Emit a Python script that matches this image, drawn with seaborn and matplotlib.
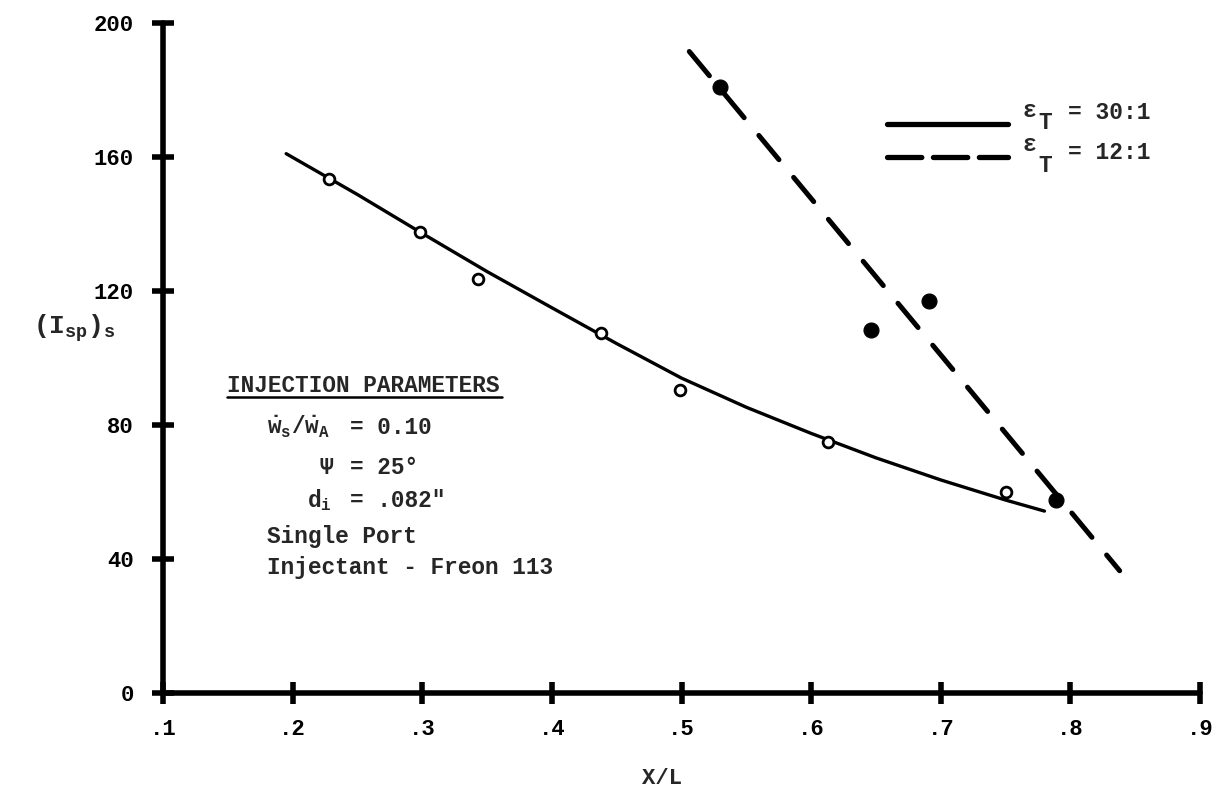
import numpy as np
import pandas as pd
import matplotlib
matplotlib.use("Agg")
import matplotlib.pyplot as plt
import seaborn as sns

sns.set_style("white")
plt.rcParams['font.family'] = ['Liberation Mono', 'DejaVu Sans Mono']
plt.rcParams['font.weight'] = 'bold'
plt.rcParams['axes.labelweight'] = 'bold'
plt.rcParams['mathtext.fontset'] = 'custom'
plt.rcParams['mathtext.rm'] = 'Liberation Mono:bold'
plt.rcParams['mathtext.it'] = 'Liberation Mono:bold'

# eps_T = 30:1 -- faired curve and test points (open circles)
fit30_x = [0.195, 0.25, 0.30, 0.35, 0.40, 0.45, 0.50, 0.55, 0.60, 0.65, 0.70, 0.75, 0.78]
fit30_y = [161.0, 148.8, 137.2, 125.8, 115.0, 104.3, 94.0, 85.3, 77.5, 70.2, 63.6, 57.6, 54.3]
pts30_x = [0.228, 0.298, 0.343, 0.438, 0.499, 0.613, 0.750]
pts30_y = [153.5, 137.5, 123.5, 107.5, 90.5, 75.0, 60.0]

# eps_T = 12:1 -- dashed fairing and test points (filled circles)
fit12_x = [0.506, 0.838]
fit12_y = [191.5, 36.5]
pts12_x = [0.530, 0.646, 0.691, 0.789]
pts12_y = [181.0, 108.5, 117.0, 57.5]

x_ticks = [0.1, 0.2, 0.3, 0.4, 0.5, 0.6, 0.7, 0.8, 0.9]
x_labels = ['.1', '.2', '.3', '.4', '.5', '.6', '.7', '.8', '.9']
y_ticks = [0, 40, 80, 120, 160, 200]

fig = plt.figure(figsize=(12.22, 7.91), dpi=100)
ax = fig.add_axes([0.1334, 0.1239, 0.8486, 0.847])

sns.lineplot(x=fit30_x, y=fit30_y, ax=ax, color='black', lw=2.4, sort=False,
             estimator=None, solid_capstyle='round')
sns.lineplot(x=fit12_x, y=fit12_y, ax=ax, color='black', lw=3.6, sort=False,
             estimator=None, linestyle=(0, (6.3, 4.6)), dash_capstyle='round')
sns.scatterplot(x=pts30_x, y=pts30_y, ax=ax, marker='o', s=60, facecolor='white',
                edgecolor='black', linewidth=2, zorder=5)
sns.scatterplot(x=pts12_x, y=pts12_y, ax=ax, marker='o', s=115, color='black',
                edgecolor='black', zorder=5)

ax.set_xlim(0.1, 0.9)
ax.set_ylim(0, 200)
ax.set_xticks(x_ticks)
ax.set_xticklabels(x_labels)
ax.set_yticks(y_ticks)
for s in ['top', 'right']:
    ax.spines[s].set_visible(False)
for s in ['left', 'bottom']:
    ax.spines[s].set_linewidth(4)
    ax.spines[s].set_color('black')
    ax.spines[s].set_capstyle('round')
ax.tick_params(bottom=True, left=True, direction='inout', length=16, width=4,
               colors='black', labelsize=16)
ax.tick_params(axis='x', pad=11)
ax.tick_params(axis='y', pad=13)
for t in ax.get_xticklabels() + ax.get_yticklabels():
    t.set_clip_on(False)

ax.set_xlabel('X/L', fontsize=16, fontweight='bold')
ax.xaxis.set_label_coords(0.481, -0.127)
ax.xaxis.label.set_va('center')
ax.set_ylabel(r'$(\mathrm{I}_{\mathrm{sp}})_{\mathrm{s}}$', fontsize=19, rotation=0)
ax.yaxis.set_label_coords(-0.085, 0.545)
ax.yaxis.label.set_va('center')
ax.yaxis.label.set_ha('center')

# key, top right
ax.plot([0.698, 0.815], [0.849, 0.849], transform=ax.transAxes, color='black',
        lw=3.8, solid_capstyle='round', clip_on=False)
ax.plot([0.698, 0.815], [0.800, 0.800], transform=ax.transAxes, color='black',
        lw=3.8, linestyle=(0, (6.5, 2.2)), dash_capstyle='round', clip_on=False)
lk = dict(transform=ax.transAxes, fontsize=16.5, va='center', ha='left')
ax.text(0.829, 0.870, 'ε', **lk)
ax.text(0.844, 0.851, 'T', **lk)
ax.text(0.873, 0.867, '= 30:1', **lk)
ax.text(0.829, 0.819, 'ε', **lk)
ax.text(0.844, 0.788, 'T', **lk)
ax.text(0.873, 0.806, '= 12:1', **lk)

# injection parameters block
tk = dict(transform=ax.transAxes, fontsize=16.4, va='center', ha='left')
ax.text(0.0617, 0.4597, 'INJECTION PARAMETERS', **tk)
ax.plot([0.0617, 0.327], [0.4418, 0.4418], transform=ax.transAxes, color='black', lw=1.8)
ax.text(0.100, 0.397, r'$\dot{\mathrm{w}}_{\mathrm{s}}/\dot{\mathrm{w}}_{\mathrm{A}}$', **tk)
ax.text(0.180, 0.397, '= 0.10', **tk)
ax.text(0.151, 0.337, 'Ψ', **tk)
ax.text(0.180, 0.337, '= 25°', **tk)
ax.text(0.139, 0.288, r'd$_{\mathrm{i}}$', **tk)
ax.text(0.180, 0.288, '= .082"', **tk)
ax.text(0.100, 0.233, 'Single Port', **tk)
ax.text(0.100, 0.188, 'Injectant - Freon 113', **tk)

fig.savefig('out.png', dpi=100, facecolor='white')
